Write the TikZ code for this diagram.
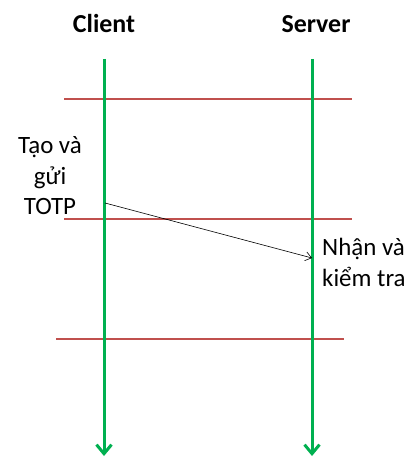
\documentclass[tikz,border=0pt]{standalone}
\usepackage{fontspec}
\setmainfont{Carlito}
\usetikzlibrary{arrows.meta}

\definecolor{lifegreen}{RGB}{0,176,80}
\definecolor{phasered}{RGB}{192,80,77}

\begin{document}
\begin{tikzpicture}[x=1bp,y=-1bp,>={Straight Barb[length=6bp,width=9bp]},
                    font=\fontsize{25}{31}\selectfont]
	\tikzstyle{life}=[draw=lifegreen,line width=3bp,-{Straight Barb[length=9bp,width=15bp,line width=3bp]}]
	\tikzstyle{phase}=[draw=phasered,line width=1.2bp]
	\tikzstyle{msg}=[->,draw=black,line width=0.6bp]
	\tikzstyle{title}=[font=\fontsize{26}{31}\selectfont\bfseries,anchor=base,inner sep=0pt]
	\tikzstyle{action}=[align=center,inner sep=0pt]

	\useasboundingbox (0,0) rectangle (412,457);

	\node[title] (client) at (104,33) {Client};
	\node[title] (server) at (316,33) {Server};

	\coordinate (c0) at (104,59);
	\coordinate (c1) at (104,456);
	\coordinate (s0) at (312,59);
	\coordinate (s1) at (312,456);

	\coordinate (p1a) at (64,99);
	\coordinate (p1b) at (352,99);
	\coordinate (p2a) at (64,219);
	\coordinate (p2b) at (352,219);
	\coordinate (p3a) at (56,339);
	\coordinate (p3b) at (344,339);

	\coordinate (send) at (105,203);
	\coordinate (recv) at (312,258);

	% base anchor sits on the last line
	\node[action,anchor=base] (gen) at (50,215) {Tạo và\\gửi\\TOTP};
	\node[action,anchor=base west,align=left] (check) at (322,286) {Nhận và\\kiểm tra};

	\draw[phase] (p1a) -- (p1b);
	\draw[phase] (p2a) -- (p2b);
	\draw[phase] (p3a) -- (p3b);

	\draw[life] (c0) -- (c1);
	\draw[life] (s0) -- (s1);

	\draw[msg] (send) -- (recv);
\end{tikzpicture}
\end{document}
